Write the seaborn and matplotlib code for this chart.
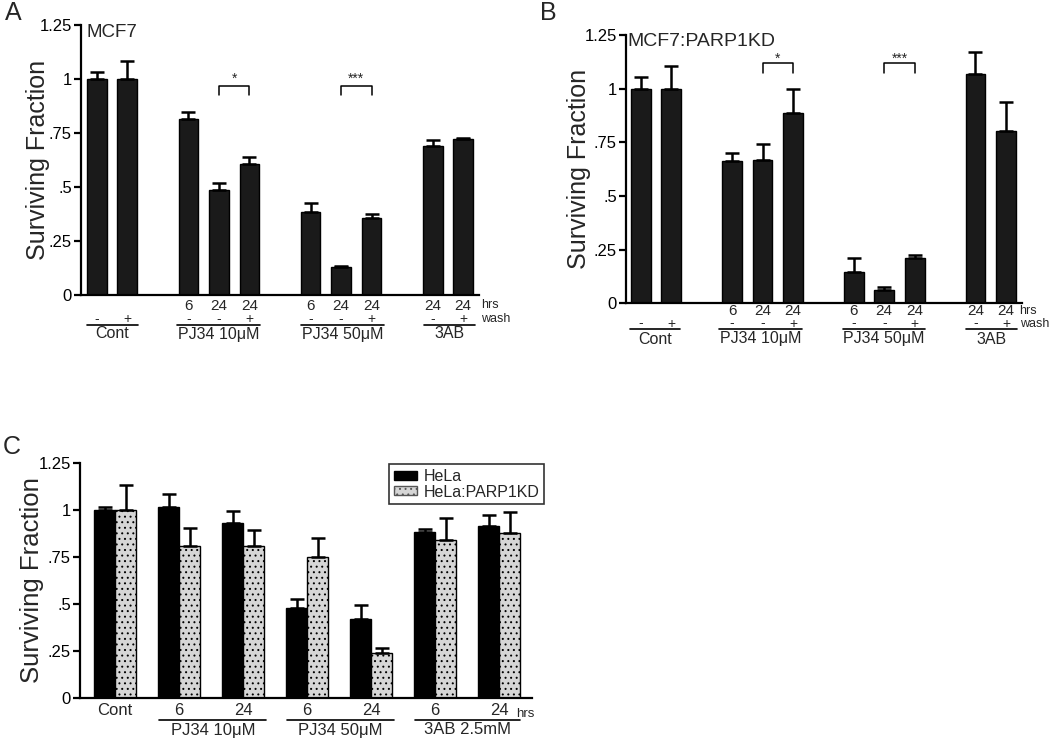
import numpy as np
import pandas as pd
import matplotlib
matplotlib.use("Agg")
import matplotlib.pyplot as plt
import seaborn as sns
from matplotlib.transforms import blended_transform_factory
from matplotlib.patches import Patch

# ---------------- data ----------------
# Panel A (MCF7)
a_pos = [0, 1, 3, 4, 5, 7, 8, 9, 11, 12]
a_vals = [1.0, 1.0, 0.815, 0.486, 0.605, 0.384, 0.131, 0.358, 0.69, 0.72]
a_errs = [0.034, 0.083, 0.034, 0.031, 0.035, 0.043, 0.004, 0.018, 0.027, 0.008]
# Panel B (MCF7:PARP1KD)
b_pos = [0, 1, 3, 4, 5, 7, 8, 9, 11, 12]
b_vals = [1.0, 1.0, 0.663, 0.667, 0.888, 0.147, 0.062, 0.212, 1.068, 0.804]
b_errs = [0.055, 0.107, 0.036, 0.075, 0.112, 0.065, 0.015, 0.013, 0.102, 0.132]
# shared labels for A and B
ab_hours = ["", "", "6", "24", "24", "6", "24", "24", "24", "24"]
ab_wash = ["-", "+", "-", "-", "+", "-", "-", "+", "-", "+"]
ab_groups = ["Cont", "PJ34 10\u03bcM", "PJ34 50\u03bcM", "3AB"]

# Panel C (HeLa vs HeLa:PARP1KD)
c_conds = ["Cont", "PJ34 10 6", "PJ34 10 24", "PJ34 50 6", "PJ34 50 24", "3AB 6", "3AB 24"]
c_ticklabels = ["Cont", "6", "24", "6", "24", "6", "24"]
c_groups = ["PJ34 10\u03bcM", "PJ34 50\u03bcM", "3AB 2.5mM"]
c_lines = ["HeLa", "HeLa:PARP1KD"]
hela_vals = [1.0, 1.018, 0.930, 0.479, 0.417, 0.882, 0.918]
hela_errs = [0.019, 0.068, 0.066, 0.047, 0.077, 0.020, 0.057]
kd_vals = [1.0, 0.807, 0.811, 0.749, 0.239, 0.841, 0.880]
kd_errs = [0.135, 0.098, 0.082, 0.104, 0.025, 0.116, 0.111]

yticks = [0, 0.25, 0.5, 0.75, 1.0, 1.25]
yticklabels = ["0", ".25", ".5", ".75", "1", "1.25"]

# ---------------- style ----------------
sns.set_theme(style="ticks")
plt.rcParams["font.family"] = ["Liberation Sans", "DejaVu Sans"]
plt.rcParams["hatch.color"] = "#5a5a5a"
plt.rcParams["hatch.linewidth"] = 0.7

W, H = 1050, 739
fig = plt.figure(figsize=(W / 100, H / 100), dpi=100)


def fy(px):
    return 1 - px / H


def make_ax(left, right, top, bottom):
    return fig.add_axes([left / W, 1 - bottom / H, (right - left) / W, (bottom - top) / H])


def style_ax(ax, xlim):
    ax.set_ylim(0, 1.25)
    ax.set_xlim(*xlim)
    ax.set_yticks(yticks)
    ax.set_yticklabels(yticklabels, fontsize=12)
    for s in ["top", "right"]:
        ax.spines[s].set_visible(False)
    for s in ["left", "bottom"]:
        ax.spines[s].set_linewidth(1.6)
        ax.spines[s].set_color("black")
    ax.tick_params(axis="y", length=5, width=1.6, pad=1.5, colors="black")
    ax.tick_params(axis="x", length=0)
    ax.set_xlabel("")
    ax.set_facecolor("none")


def err(ax, xs, vals, errs):
    ax.errorbar(xs, vals, yerr=[np.zeros(len(errs)), errs], fmt="none",
                ecolor="black", elinewidth=1.8, capsize=5, capthick=1.8, zorder=3)


def panel_ab(ax, pos, vals, errs, xlim, title, title_xy, title_fs, rows, line_spans,
             bracket_y, star_y, hw_x):
    df = pd.DataFrame({"pos": pos, "val": vals})
    sns.barplot(data=df, x="pos", y="val", native_scale=True, width=0.65,
                color="#1a1a1a", saturation=1, edgecolor="black", linewidth=1,
                errorbar=None, ax=ax)
    err(ax, pos, vals, errs)
    style_ax(ax, xlim)
    ax.set_xticks([])
    ax.set_ylabel("Surviving Fraction", fontsize=18)
    ax.text(title_xy[0], title_xy[1], title, fontsize=title_fs, ha="left", va="center")
    tr = blended_transform_factory(ax.transData, fig.transFigure)
    y_h, y_w, y_line, y_grp = rows
    for p, h, w in zip(pos, ab_hours, ab_wash):
        if h:
            ax.text(p, fy(y_h), h, transform=tr, ha="center", va="center", fontsize=11)
        ax.text(p, fy(y_w), w, transform=tr, ha="center", va="center", fontsize=10)
    for name, (x0, x1) in zip(ab_groups, line_spans):
        ax.plot([x0, x1], [fy(y_line)] * 2, transform=tr, color="black", lw=1.2, clip_on=False)
        ax.text((x0 + x1) / 2, fy(y_grp), name, transform=tr, ha="center", va="center", fontsize=11.5)
    ax.text(hw_x, fy(y_h), "hrs", transform=tr, ha="left", va="center", fontsize=9)
    ax.text(hw_x, fy(y_w), "wash", transform=tr, ha="left", va="center", fontsize=9)
    # significance brackets
    for (x0, x1), star in [((4, 5), "*"), ((8, 9), "***")]:
        top, low = bracket_y
        ax.plot([x0, x0, x1, x1], [low, top, top, low], color="black", lw=1.1, clip_on=False)
        ax.text((x0 + x1) / 2, star_y, star, ha="center", va="center", fontsize=10)


# ---------------- Panel A ----------------
axA = make_ax(81, 479, 25, 295)
panel_ab(axA, a_pos, a_vals, a_errs, (-0.52, 12.52), "MCF7", (-0.33, 1.213), 13.5,
         (305.5, 319, 324.5, 334),
         [(-0.33, 1.34), (2.62, 5.34), (6.69, 9.41), (10.72, 12.39)],
         (0.968, 0.926), 1.0, 12.6)
axA.yaxis.label.set_va("center")
axA.yaxis.set_label_coords(-0.108, 0.5)

# ---------------- Panel B ----------------
axB = make_ax(626, 1022, 35, 303.3)
panel_ab(axB, b_pos, b_vals, b_errs, (-0.49, 12.53), "MCF7:PARP1KD", (-0.43, 1.222), 14,
         (311, 323.5, 329, 339),
         [(-0.36, 1.28), (2.57, 5.3), (6.64, 9.34), (10.69, 12.37)],
         (1.118, 1.074), 1.14, 12.45)
axB.yaxis.label.set_va("center")
axB.yaxis.set_label_coords(-0.119, 0.5)

# ---------------- Panel C ----------------
axC = make_ax(80, 531.7, 463.3, 697.5)
dfc = pd.DataFrame({
    "cond": c_conds * 2,
    "val": hela_vals + kd_vals,
    "line": [c_lines[0]] * len(c_conds) + [c_lines[1]] * len(c_conds),
})
sns.barplot(data=dfc, x="cond", y="val", hue="line", hue_order=c_lines,
            palette=["#000000", "#d6d6d6"], saturation=1, width=0.66,
            edgecolor="black", linewidth=1, errorbar=None, legend=False, ax=axC)
for cont, errs in zip(axC.containers, [hela_errs, kd_errs]):
    xs = [p.get_x() + p.get_width() / 2 for p in cont]
    hs = [p.get_height() for p in cont]
    err(axC, xs, hs, errs)
for p in axC.containers[1]:
    p.set_hatch("...")
style_ax(axC, (-0.55, 6.51))
axC.set_xticks(range(len(c_conds)))
axC.set_xticklabels(c_ticklabels, fontsize=12)
axC.tick_params(axis="x", pad=4)
axC.set_ylabel("Surviving Fraction", fontsize=18.5)
axC.yaxis.label.set_va("center")
axC.yaxis.set_label_coords(-0.106, 0.5)
trC = blended_transform_factory(axC.transData, fig.transFigure)
for name, (x0, x1) in zip(c_groups, [(0.69, 2.36), (2.69, 4.36), (4.69, 6.33)]):
    axC.plot([x0, x1], [fy(720)] * 2, transform=trC, color="black", lw=1.2, clip_on=False)
    axC.text((x0 + x1) / 2, fy(730), name, transform=trC, ha="center", va="center", fontsize=12)
axC.text(6.27, fy(714), "hrs", transform=trC, ha="left", va="center", fontsize=9.5)
handles = [Patch(facecolor="#000000", edgecolor="black", label=c_lines[0]),
           Patch(facecolor="#d6d6d6", edgecolor="#555555", hatch="...", label=c_lines[1])]
leg = fig.legend(handles=handles, loc="upper left", bbox_to_anchor=(389 / W, fy(464)),
                 fontsize=11.5, frameon=True, fancybox=False, handlelength=1.45,
                 handleheight=0.5, handletextpad=0.4, borderpad=0.3, labelspacing=0.05,
                 borderaxespad=0)
leg.get_frame().set_edgecolor("black")
leg.get_frame().set_linewidth(1.2)

# panel letters
fig.text(5 / W, fy(13), "A", fontsize=18, ha="left", va="center")
fig.text(540 / W, fy(13), "B", fontsize=18, ha="left", va="center")
fig.text(3 / W, fy(447), "C", fontsize=18, ha="left", va="center")

fig.savefig("out.png", dpi=100, facecolor="white")
